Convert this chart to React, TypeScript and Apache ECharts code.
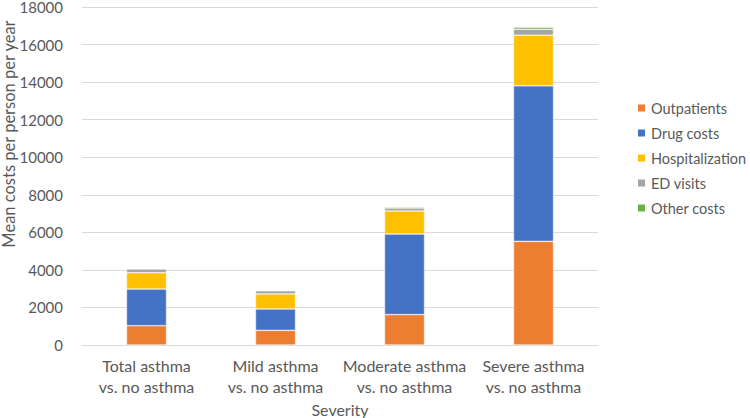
import React, { useEffect, useRef } from "react";
import * as echarts from "echarts";

const categories = [
  "Total asthma\nvs. no asthma",
  "Mild asthma\nvs. no asthma",
  "Moderate asthma\nvs. no asthma",
  "Severe asthma\nvs. no asthma",
];
const seriesNames = ["Outpatients", "Drug costs", "Hospitalization", "ED visits", "Other costs"];
const outpatients = [1030, 780, 1620, 5520];
const drugCosts = [1950, 1140, 4290, 8280];
const hospitalization = [870, 800, 1230, 2700];
const edVisits = [200, 170, 160, 320];
const otherCosts = [30, 20, 50, 100];
const colors = ["#ED7D31", "#4472C4", "#FFC000", "#A5A5A5", "#70AD47"];
const yTicks = { min: 0, max: 18000, interval: 2000 };

const FONT = "Lato, 'Open Sans', sans-serif";
const TEXT = "#595959";

export default function App() {
  const ref = useRef<HTMLDivElement>(null);
  useEffect(() => {
    document.body.style.margin = "0";
    if (!ref.current) return;
    const chart = echarts.init(ref.current, null, { renderer: "svg" });
    const values = [outpatients, drugCosts, hospitalization, edVisits, otherCosts];
    chart.setOption({
      animation: false,
      textStyle: { fontFamily: FONT },
      grid: { left: 82, right: 152, top: 7, bottom: 73, outerBoundsMode: "none", containLabel: false },
      legend: {
        orient: "vertical",
        left: 636,
        top: 100,
        padding: 0,
        itemWidth: 9,
        itemHeight: 9,
        itemGap: 9,
        icon: "rect",
        textStyle: { fontFamily: FONT, fontSize: 14.5, color: TEXT, lineHeight: 16 },
        data: seriesNames,
      },
      xAxis: {
        type: "category",
        data: categories,
        axisLine: { lineStyle: { color: "#D9D9D9", width: 1 } },
        axisTick: { show: false },
        axisLabel: {
          fontFamily: FONT,
          fontSize: 16,
          color: TEXT,
          lineHeight: 21,
          margin: 10,
          interval: 0,
        },
        name: "Severity",
        nameLocation: "middle",
        nameGap: 55,
        nameTextStyle: { fontFamily: FONT, fontSize: 16, color: TEXT },
      },
      yAxis: {
        type: "value",
        min: yTicks.min,
        max: yTicks.max,
        interval: yTicks.interval,
        axisLine: { show: false },
        axisTick: { show: false },
        splitLine: { lineStyle: { color: "#D9D9D9", width: 1 } },
        axisLabel: {
          fontFamily: FONT,
          fontSize: 15,
          lineHeight: 14,
          color: TEXT,
          margin: 19,
          formatter: (v: number) => String(v),
        },
      },
      graphic: [
        {
          type: "text",
          x: 9,
          y: 134,
          rotation: Math.PI / 2,
          style: {
            text: "Mean costs per person per year",
            fontFamily: FONT,
            fontSize: 16.5,
            fill: TEXT,
            align: "center",
            verticalAlign: "middle",
          },
        },
      ],
      series: seriesNames.map((name, i) => ({
        name,
        type: "bar",
        stack: "total",
        barWidth: 40,
        data: values[i],
        itemStyle: { color: colors[i], borderColor: "#fff", borderWidth: 0.5 },
      })),
    });
    return () => chart.dispose();
  }, []);
  return <div ref={ref} style={{ width: 750, height: 418 }} />;
}
